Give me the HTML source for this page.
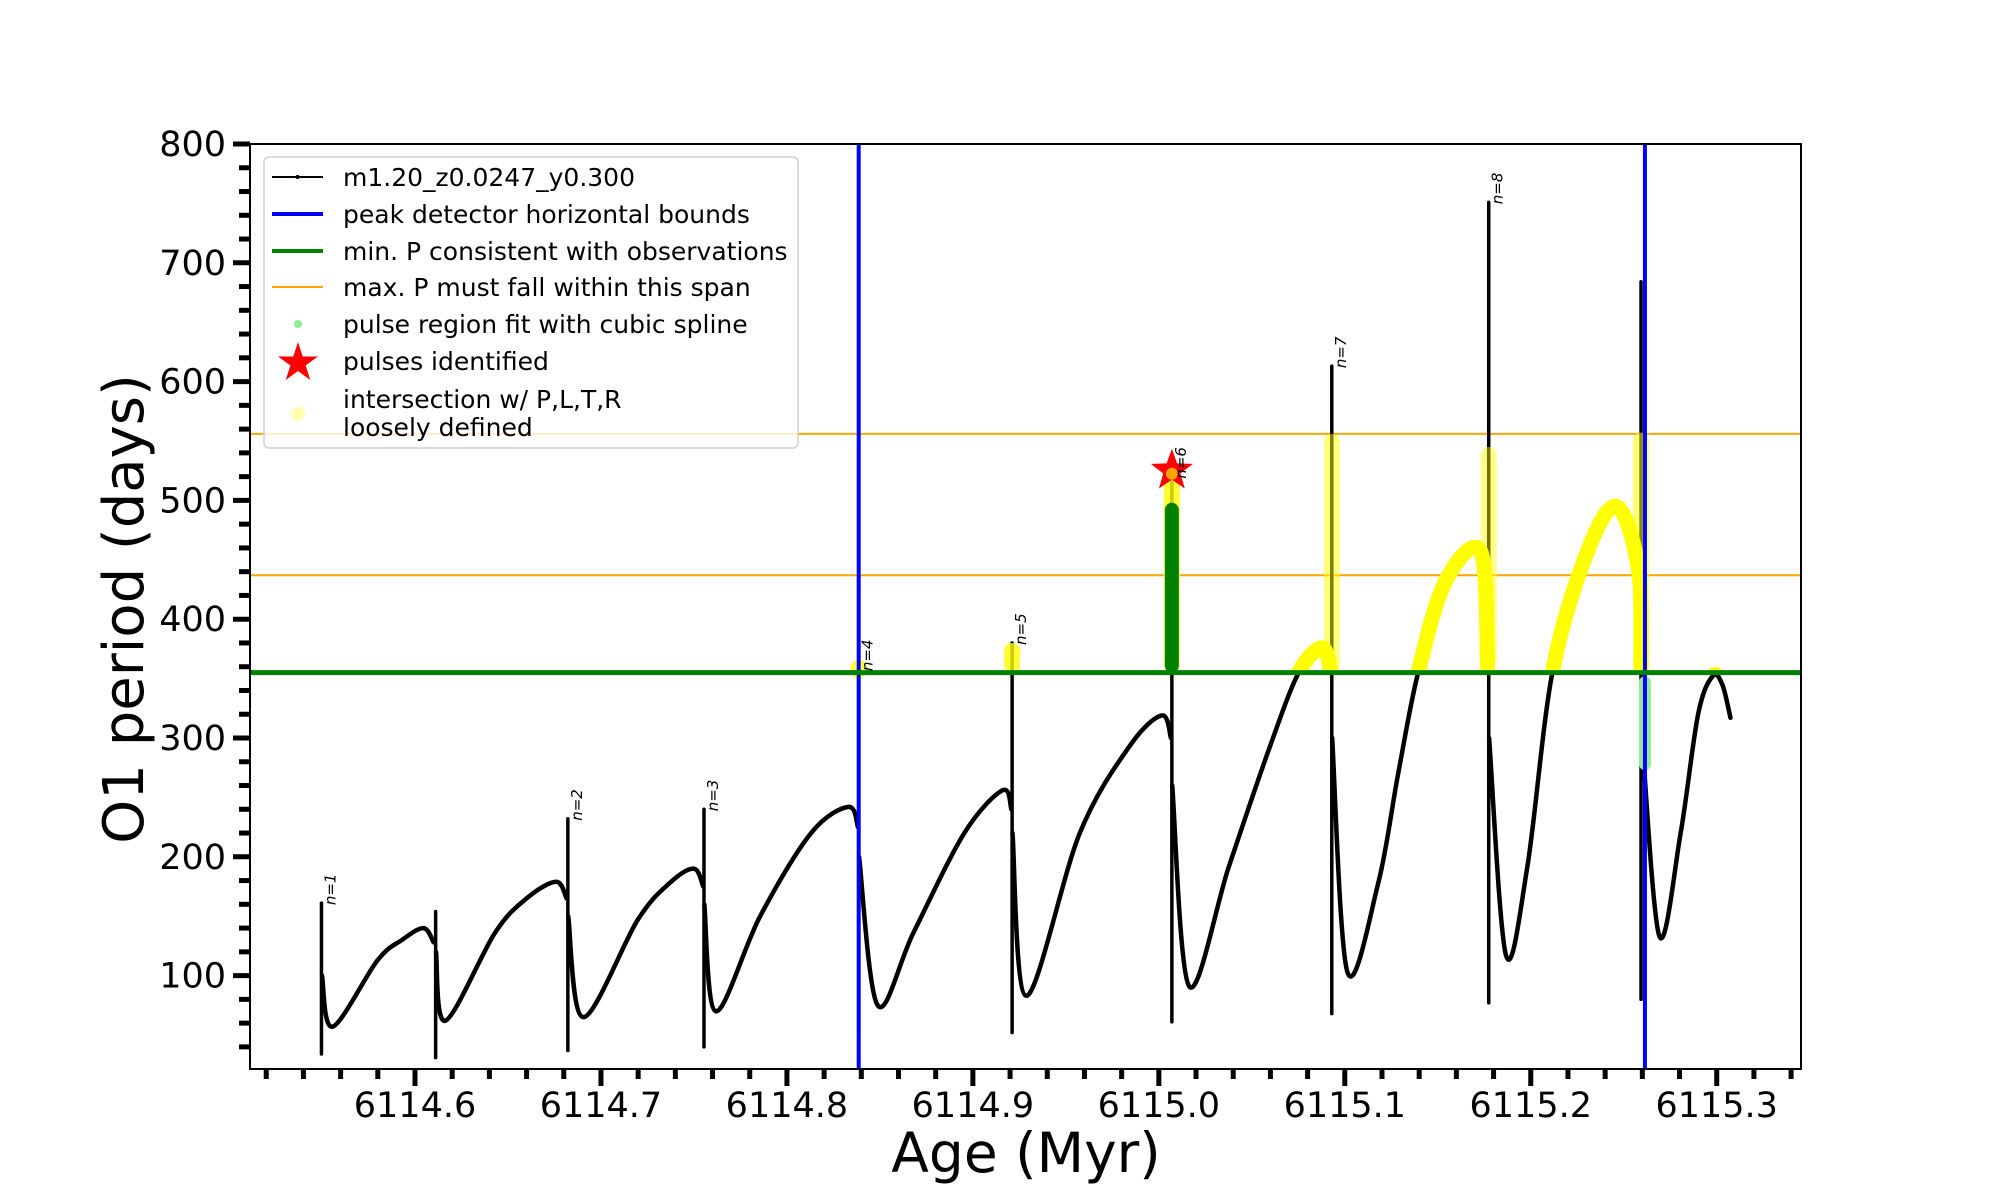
<!DOCTYPE html>
<html><head><meta charset="utf-8"><style>
html,body{margin:0;padding:0;background:#fff;}
svg{display:block;font-family:"DejaVu Sans","Liberation Sans",sans-serif;}
</style></head><body>
<svg id="chart" width="2000" height="1200" viewBox="0 0 2000 1200" xmlns="http://www.w3.org/2000/svg">
<defs><clipPath id="plotclip"><rect x="250" y="144" width="1551" height="925"/></clipPath>
<clipPath id="aboveclip"><rect id="aboverect" x="250" y="144" width="1551" height="530"/></clipPath></defs>
<g id="plot" clip-path="url(#plotclip)"></g>
<g id="axes"></g>
<g id="legend"></g>
</svg>
<script>
// ---- data ----
const segAges = [
 [6114.5500,6114.5557,6114.5799,6114.5930,6114.6046,6114.6100],
 [6114.6113,6114.6163,6114.6430,6114.6600,6114.6759,6114.6815],
 [6114.6824,6114.6905,6114.7198,6114.7370,6114.7500,6114.7550],
 [6114.7556,6114.7618,6114.7856,6114.8130,6114.8331,6114.8382],
 [6114.8388,6114.8488,6114.8680,6114.8954,6114.9160,6114.9207],
 [6114.9213,6114.9288,6114.9575,6114.9842,6115.0016,6115.0065],
 [6115.0072,6115.0163,6115.0377,6115.0591,6115.0752,6115.0879,6115.0925],
 [6115.0932,6115.1014,6115.1180,6115.1287,6115.1394,6115.1542,6115.1731,6115.1768],
 [6115.1776,6115.1867,6115.1982,6115.2116,6115.2300,6115.2462,6115.2580,6115.2593],
 [6115.2598,6115.2692,6115.2806,6115.2900,6115.2978,6115.3030,6115.3074]
];
const segPeriods = [
 [100,57,113,130,140,128],
 [120,62,136,165,179,165],
 [150,65,147,178,190,175],
 [160,70,150,220,242,225],
 [200,75,136,220,256,240],
 [220,83,220,293,319,300],
 [260,91,192,290,355,376,355],
 [300,103,178,270,355,432,457,360],
 [300,117,192,355,455,495,441,355],
 [300,133,220,320,352,345,317]
];
const spikeAges = [6114.5497,6114.6111,6114.6822,6114.7554,6114.8386,6114.9211,6115.0070,6115.0930,6115.1774,6115.2593];
const spikeLows = [34,31,37,40,52,52,61,68,77,80];
const spikeHighs = [161,154,232,240,358,380,520,613,751,684];
const pulseLabels = ["n=1","","n=2","n=3","n=4","n=5","n=6","n=7","n=8",""];
const colLows = [0,0,0,0,350,355,355,355,360,355];
const colHighs = [0,0,0,0,366,380,525,556,545,557];
const colAlpha = [0,0,0,0,0.8,0.8,0.8,0.5,0.45,0.55];
const fitGreenLow = 355, fitGreenHigh = 498;
const splineLow = 273, splineHigh = 352;
const boundAges = [6114.8386,6115.2614];
const minP = 355;
const maxPSpan = [437,556];
const starAge = 6115.0070, starP = 525;
const xTicks = [6114.6,6114.7,6114.8,6114.9,6115.0,6115.1,6115.2,6115.3];
const xTickLabels = ["6114.6","6114.7","6114.8","6114.9","6115.0","6115.1","6115.2","6115.3"];
const yTicks = [100,200,300,400,500,600,700,800];
const yTickLabels = ["100","200","300","400","500","600","700","800"];

// ---- axes functions ----
const X = a => 415 + (a - 6114.6) * 1859.6;
const Y = v => 144 + (800 - v) * 1.188;
const NS = "http://www.w3.org/2000/svg";
function mk(tag, attrs, parent){const e=document.createElementNS(NS,tag);for(const k in attrs)e.setAttribute(k,attrs[k]);parent.appendChild(e);return e;}
function smoothPath(ax, pv){
  const p = ax.map((a,i)=>[X(a),Y(pv[i])]);
  let d = "M"+p[0][0]+","+p[0][1];
  for(let i=0;i<p.length-1;i++){
    const p0=p[Math.max(0,i-1)],p1=p[i],p2=p[i+1],p3=p[Math.min(p.length-1,i+2)];
    const c1=[p1[0]+(p2[0]-p0[0])/6,p1[1]+(p2[1]-p0[1])/6];
    const c2=[p2[0]-(p3[0]-p1[0])/6,p2[1]-(p3[1]-p1[1])/6];
    d+=" C"+c1[0]+","+c1[1]+" "+c2[0]+","+c2[1]+" "+p2[0]+","+p2[1];
  }
  return d;
}
const plot = document.getElementById("plot");
const axes = document.getElementById("axes");
const legend = document.getElementById("legend");
document.getElementById("aboverect").setAttribute("height", Y(minP)-144);

maxPSpan.forEach((v,i)=>{
  const l=mk("line",{x1:250,x2:1801,y1:Y(v),y2:Y(v),stroke:"#ffa500","stroke-width":2},plot);
  
  
});
segAges.forEach((ax,i)=>{
  const p=mk("path",{d:smoothPath(ax,segPeriods[i]),fill:"none",stroke:"#000","stroke-width":4.5,"stroke-linejoin":"round","stroke-linecap":"round"},plot);
  
  
});
spikeAges.forEach((a,i)=>{
  const l=mk("line",{x1:X(a),x2:X(a),y1:Y(spikeLows[i]),y2:Y(spikeHighs[i]),stroke:"#000","stroke-width":3.5,"stroke-linecap":"round"},plot);
  
  
});
const yg = mk("g",{"clip-path":"url(#aboveclip)"},plot);
segAges.forEach((ax,i)=>{
  const p=mk("path",{d:smoothPath(ax,segPeriods[i]),fill:"none",stroke:"#ffff00","stroke-width":15,"stroke-linecap":"round","stroke-linejoin":"round"},yg);
  
  
});
spikeAges.forEach((a,i)=>{
  if(colHighs[i]<=0) return;
  const r=mk("rect",{x:X(a)-8,y:Y(colHighs[i]),width:16,height:Y(colLows[i])-Y(colHighs[i]),rx:8,fill:"#ffff00","fill-opacity":colAlpha[i]},plot);
  
  
});
const gc=mk("rect",{x:X(starAge)-7,y:Y(fitGreenHigh),width:14,height:Y(fitGreenLow)-Y(fitGreenHigh),rx:7,fill:"#008000"},plot);


const lg=mk("rect",{x:X(boundAges[1])-6,y:Y(splineHigh),width:12,height:Y(splineLow)-Y(splineHigh),rx:6,fill:"#90ee90"},plot);


boundAges.forEach(a=>{
  const l=mk("line",{x1:X(a),x2:X(a),y1:144,y2:1069,stroke:"#0000ff","stroke-width":4},plot);
  
  
});
const gl=mk("line",{x1:250,x2:1801,y1:Y(minP),y2:Y(minP),stroke:"#008000","stroke-width":5},plot);


function starPts(cx,cy,R,r){let s=[];for(let k=0;k<10;k++){const ang=-Math.PI/2+k*Math.PI/5;const rr=k%2?r:R;s.push((cx+rr*Math.cos(ang)).toFixed(1)+","+(cy+rr*Math.sin(ang)).toFixed(1));}return s.join(" ");}
const st=mk("polygon",{points:starPts(X(starAge),Y(starP),22,9),fill:"#ff0000"},plot);


const sd=mk("circle",{cx:X(starAge),cy:Y(starP)+3,r:6,fill:"#ffcc00","fill-opacity":0.8},plot);


spikeAges.forEach((a,i)=>{
  if(!pulseLabels[i]) return;
  const x=X(a)+14, y=Y(spikeHighs[i])+2;
  const t=mk("text",{x:x,y:y,transform:"rotate(-90 "+x+" "+y+")","font-size":15,"font-style":"italic",fill:"#000"},plot);
  t.textContent=pulseLabels[i];
  
  
});
const fr=mk("rect",{x:250,y:144,width:1551,height:925,fill:"none",stroke:"#000","stroke-width":2},axes);


for(let v=40; v<=800; v+=20){
  const major = v%100===0;
  const t=mk("line",{x1:250-(major?17:11),x2:250,y1:Y(v),y2:Y(v),stroke:"#000","stroke-width":5},axes);
  
  
}
yTicks.forEach((v,i)=>{
  const t=mk("text",{x:226,y:Y(v)+12,"text-anchor":"end","font-size":35,fill:"#000"},axes);
  t.textContent=yTickLabels[i];
  
  
});
for(let k=0;k<=41;k++){
  const a=6114.52+k*0.02;
  if(X(a)>1802) break;
  const major = (k-4)%5===0;
  const t=mk("line",{x1:X(a),x2:X(a),y1:1069,y2:1069+(major?17:10),stroke:"#000","stroke-width":5},axes);
  
  
}
xTicks.forEach((a,i)=>{
  const t=mk("text",{x:X(a),y:1117,"text-anchor":"middle","font-size":35,fill:"#000"},axes);
  t.textContent=xTickLabels[i];
  
  
});
const xl=mk("text",{x:1026,y:1172,"text-anchor":"middle","font-size":55,fill:"#000"},axes);
xl.textContent="Age (Myr)";


const yl=mk("text",{x:143,y:609,"text-anchor":"middle","font-size":56,fill:"#000",transform:"rotate(-90 143 609)"},axes);
yl.textContent="O1 period (days)";



const lb=mk("rect",{x:264,y:157,width:534,height:291,rx:5,fill:"#fff","fill-opacity":0.8,stroke:"#d0d0d0","stroke-width":1.5},legend);


const legendLabels=["m1.20_z0.0247_y0.300","peak detector horizontal bounds","min. P consistent with observations","max. P must fall within this span","pulse region fit with cubic spline","pulses identified"];
const rowsY=[177,214,251,287,324,361];
const ln=mk("line",{x1:272,x2:323,y1:rowsY[0],y2:rowsY[0],stroke:"#000","stroke-width":2},legend);


const ld=mk("circle",{cx:297.5,cy:rowsY[0],r:2,fill:"#000"},legend);


const l2=mk("line",{x1:272,x2:323,y1:rowsY[1],y2:rowsY[1],stroke:"#0000ff","stroke-width":4},legend);


const l3=mk("line",{x1:272,x2:323,y1:rowsY[2],y2:rowsY[2],stroke:"#008000","stroke-width":4},legend);


const l4=mk("line",{x1:272,x2:323,y1:rowsY[3],y2:rowsY[3],stroke:"#ffa500","stroke-width":2},legend);


const l5=mk("circle",{cx:298,cy:rowsY[4],r:4,fill:"#90ee90"},legend);


const l6=mk("polygon",{points:starPts(298,rowsY[5]+2,21,8),fill:"#ff0000"},legend);


const l7=mk("circle",{cx:298,cy:414,r:7,fill:"#ffffb0"},legend);


legendLabels.forEach((s,i)=>{
  const t=mk("text",{x:343,y:rowsY[i]+9,"font-size":25,fill:"#000"},legend);
  t.textContent=s;
  
  
});
["intersection w/ P,L,T,R","loosely defined"].forEach((s,i)=>{
  const t=mk("text",{x:343,y:408+i*28,"font-size":25,fill:"#000"},legend);
  t.textContent=s;
  
  
});
</script>
</body></html>
